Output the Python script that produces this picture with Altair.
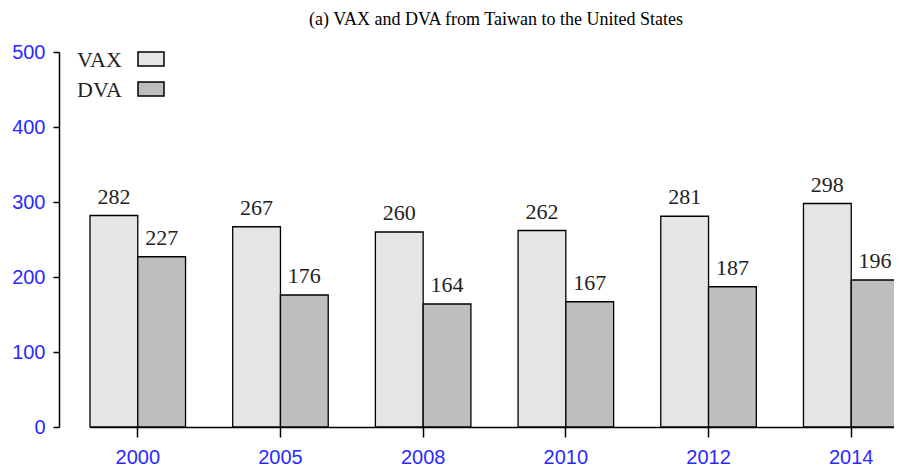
import altair as alt
import pandas as pd

years = ["2000", "2005", "2008", "2010", "2012", "2014"]
vax = [282, 267, 260, 262, 281, 298]
dva = [227, 176, 164, 167, 187, 196]
series = ["VAX", "DVA"]
colors = ["#e5e5e5", "#bebebe"]
y_ticks = [0, 100, 200, 300, 400, 500]
title_text = "(a) VAX and DVA from Taiwan to the United States"

rows = []
for yr, a, b in zip(years, vax, dva):
    rows.append({"year": yr, "series": "VAX", "value": a})
    rows.append({"year": yr, "series": "DVA", "value": b})
df = pd.DataFrame(rows)

SERIF = "Liberation Serif"
SANS = "Liberation Sans"

base = alt.Chart(df).encode(
    x=alt.X(
        "year:N",
        sort=years,
        scale=alt.Scale(range=[0, 809], paddingInner=0.3305, paddingOuter=0, round=False),
        axis=alt.Axis(
            title=None, labelAngle=0, tickSize=10, labelPadding=10,
            labelColor="#2a2aff", labelFontSize=20, labelFont=SANS,
            domainColor="black", tickColor="black", domainWidth=1.5, tickWidth=1.5,
        ),
    ),
    xOffset=alt.XOffset("series:N", sort=series,
                        scale=alt.Scale(paddingInner=0, paddingOuter=0, round=False)),
    y=alt.Y(
        "value:Q",
        scale=alt.Scale(domain=[0, 500], nice=False),
        axis=alt.Axis(
            title=None, values=y_ticks, offset=31, tickSize=6, labelPadding=8,
            labelColor="#2a2aff", labelFontSize=20, labelFont=SANS, grid=False,
            domainColor="black", tickColor="black", domainWidth=1.5, tickWidth=1.5,
        ),
    ),
)

bars = base.mark_bar(stroke="black", strokeWidth=1.3).encode(
    color=alt.Color("series:N", scale=alt.Scale(domain=series, range=colors), legend=None)
)
labels = base.mark_text(dy=-7, baseline="bottom", font=SERIF, fontSize=22, color="#222222").encode(
    text="value:Q"
)

layers = [bars, labels]
for i, (s, c) in enumerate(zip(series, colors)):
    ldf = pd.DataFrame({"label": [s]})
    layers.append(
        alt.Chart(ldf).mark_text(align="left", baseline="alphabetic", font=SERIF, fontSize=22, color="#222222")
        .encode(text="label:N", x=alt.value(-13), y=alt.value(14.5 + 30 * i))
    )
    layers.append(
        alt.Chart(ldf).mark_rect(fill=c, stroke="black", strokeWidth=1.5)
        .encode(x=alt.value(48), x2=alt.value(74), y=alt.value(0 + 30 * i), y2=alt.value(14 + 30 * i))
    )

chart = (
    alt.layer(*layers)
    .properties(
        width=804,
        height=375,
        title=alt.TitleParams(title_text, font=SERIF, fontSize=18, fontWeight="normal",
                              anchor="middle", offset=13, dx=4, color="black"),
        padding={"left": 82, "right": 0, "top": 44, "bottom": 40},
        autosize=alt.AutoSizeParams(type="none"),
    )
    .configure_view(stroke=None)
)

chart.save("out.html", embed_options={"renderer": "svg", "actions": False})
